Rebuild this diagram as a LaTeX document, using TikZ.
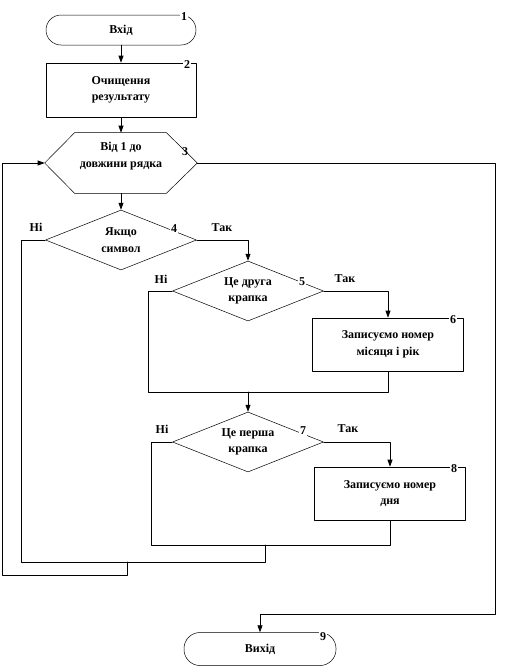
\documentclass[tikz,border=0pt]{standalone}
\usepackage{fontspec}
\setmainfont{Liberation Serif}
\usetikzlibrary{arrows.meta,calc,positioning,shapes.geometric}
\tikzset{
  term/.style={rectangle, rounded corners=15pt, draw, line width=0.5pt, minimum width=150pt, minimum height=30pt, inner sep=1pt},
  proc/.style={rectangle, draw, line width=0.7pt, minimum width=150pt, minimum height=54pt, align=center, inner sep=1pt},
  cond/.style={diamond, draw, line width=0.5pt, minimum width=151pt, minimum height=60pt, aspect=2.5, inner sep=0pt, align=center},
  hexbox/.style={rectangle, minimum width=152pt, minimum height=60pt, inner sep=0pt},
  num/.style={fill=white, inner sep=0.8pt},
  lab/.style={inner sep=0pt},
  arr/.style={-{Triangle[width=5pt,length=7pt]}},
  every picture/.style={line cap=round, line join=round}
}

\begin{document}
\begin{tikzpicture}[x=1pt, y=-1pt, line width=0.7pt,
  every node/.style={font=\bfseries\fontsize{12}{16.5}\selectfont}]
  \useasboundingbox (0,0) rectangle (514,670);

  % 1: start
  \node[term] (b1) at (121,30) {Вхід};
  \node[num] at (184,17) {1};

  % 2
  \node[proc] (b2) at (121,90) {Очищення\\результату};
  \node[num] at (187,65) {2};

  % 3: loop
  \node[hexbox] (b3) at (121,163) {};
  \draw[line width=0.5pt] (b3.west) -- ($(b3.north west)+(30,0)$) -- ($(b3.north east)+(-31,0)$)
    -- (b3.east) -- ($(b3.south east)+(-31,0)$) -- ($(b3.south west)+(30,0)$) -- cycle;
  \node[align=center] (t3) at (121,156) {Від 1 до\\довжини рядка};
  \node[lab] at (185,152) {3};

  % 4
  \node[cond] (b4) at (121,240) {Якщо\\символ};
  \node[num] at (174,229) {4};
  \node[lab] at (36,227) {Ні};
  \node[lab] at (222,228) {Так};

  % 5
  \node[cond] (b5) at (248,291) {Це друга\\крапка};
  \node[num] at (302,282) {5};
  \node[lab] at (161,279) {Ні};
  \node[lab] at (345,279) {Так};

  % 6
  \node[proc, minimum width=151pt, minimum height=53pt] (b6) at (388,344.5) {Записуємо номер\\місяця і рік};
  \node[num] at (453,320) {6};

  % 7
  \node[cond] (b7) at (248,442) {Це перша\\крапка};
  \node[num] at (303,431) {7};
  \node[lab] at (162,429) {Ні};
  \node[lab] at (348,429) {Так};

  % 8
  \node[proc, minimum width=151pt, minimum height=53pt] (b8) at (390,493.5) {Записуємо номер\\дня};
  \node[num] at (454,469) {8};

  % 9: end
  \node[term, minimum width=152pt, minimum height=33pt, rounded corners=16pt] (b9) at (260,649) {Вихід};
  \node[num] at (323,637) {9};

  % joints
  \coordinate (n5) at (148,392);
  \coordinate (m5) at (248,392);
  \coordinate (n7) at (151,545);
  \coordinate (m7) at (265,545);
  \coordinate (n4) at (21,562);
  \coordinate (m4) at (127,562);
  \coordinate (l3) at (2,575);
  \coordinate (r3) at (495,614);

  % connectors
  \draw[arr] (b1) -- (b2);
  \draw[arr] (b2) -- (b3.north);
  \draw[arr] (b3) -- (b4);
  \draw[arr] (b4.east) -| (b5.north);
  \draw (b4.west) -| (n4) -- (m4);
  \draw (m7) |- (m4);
  \draw[arr] (b5.east) -| (b6.north);
  \draw (b5.west) -| (n5) -- (m5);
  \draw (b6.south) |- (m5);
  \draw[arr] (m5) -- (b7.north);
  \draw[arr] (b7.east) -| (b8.north);
  \draw (b7.west) -| (n7) -- (m7);
  \draw (b8.south) |- (m7);
  \draw[arr] (m4) |- (l3) |- (b3.west);
  \draw[arr] (b3.east) -| (r3) -| (b9.north);
\end{tikzpicture}
\end{document}
